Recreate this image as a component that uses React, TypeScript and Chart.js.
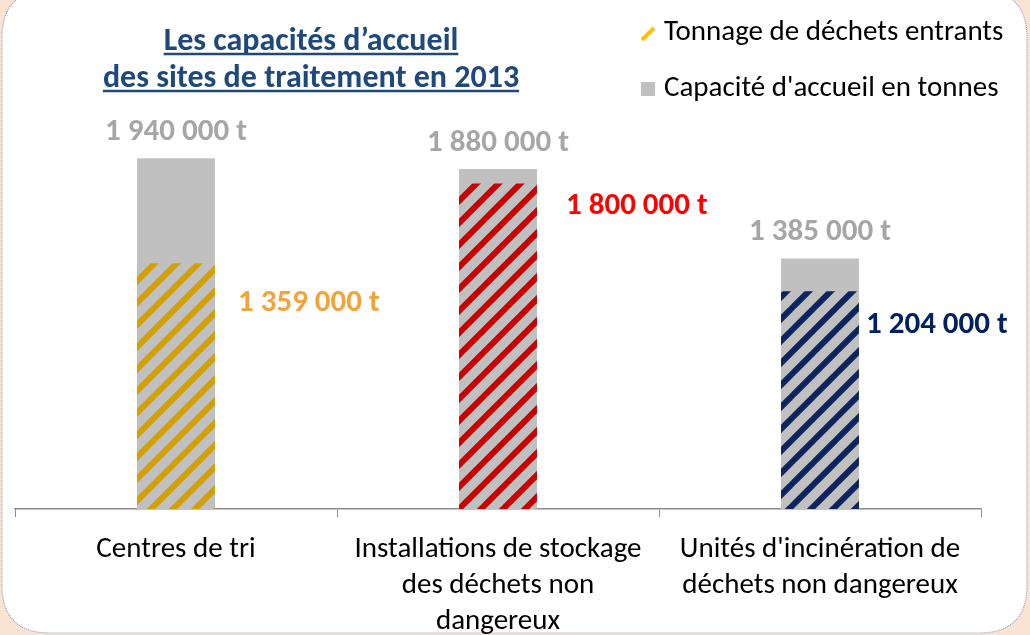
import React, { useEffect, useRef } from "react";
import { Chart, registerables } from "chart.js";

Chart.register(...registerables);

const categories: string[][] = [
  ["Centres de tri"],
  ["Installations de stockage", "des déchets non", "dangereux"],
  ["Unités d'incinération de", "déchets non dangereux"],
];
const tonnage = [1359000, 1800000, 1204000];
const capacite = [1940000, 1880000, 1385000];
const seriesNames = ["Tonnage de déchets entrants", "Capacité d'accueil en tonnes"];
const titleLines = ["Les capacités d’accueil", "des sites de traitement en 2013"];

const FONT = "Carlito, Lato, 'Open Sans', sans-serif";
const GRAY = "#C0C0C0";
const stripeColors = ["#D4A000", "#C80000", "#0C2460"];
const labelColors = ["#F2A33A", "#FF0000", "#002060"];
const labelOffsets = [
  [62, 40],
  [68, 23],
  [46, 34],
];

const fmt = (v: number) => v.toString().replace(/\B(?=(\d{3})+(?!\d))/g, " ") + " t";

function stripes(color: string): CanvasPattern | string {
  const s = 22;
  const c = document.createElement("canvas");
  c.width = s;
  c.height = s;
  const g = c.getContext("2d");
  if (!g) return color;
  g.fillStyle = GRAY;
  g.fillRect(0, 0, s, s);
  g.strokeStyle = color;
  g.lineWidth = 6;
  for (const o of [-s, 0, s]) {
    g.beginPath();
    g.moveTo(o - 2, s + 2);
    g.lineTo(o + s + 2, -2);
    g.stroke();
  }
  return g.createPattern(c, "repeat") || color;
}

function roundRect(ctx: CanvasRenderingContext2D, x: number, y: number, w: number, h: number, r: number) {
  ctx.beginPath();
  ctx.moveTo(x + r, y);
  ctx.lineTo(x + w - r, y);
  ctx.quadraticCurveTo(x + w, y, x + w, y + r);
  ctx.lineTo(x + w, y + h - r);
  ctx.quadraticCurveTo(x + w, y + h, x + w - r, y + h);
  ctx.lineTo(x + r, y + h);
  ctx.quadraticCurveTo(x, y + h, x, y + h - r);
  ctx.lineTo(x, y + r);
  ctx.quadraticCurveTo(x, y, x + r, y);
  ctx.closePath();
}

const decor = {
  id: "decor",
  beforeDraw(chart: any) {
    const ctx: CanvasRenderingContext2D = chart.ctx;
    ctx.save();
    ctx.fillStyle = "#FBE3D3";
    ctx.fillRect(0, 0, chart.width, chart.height);
    roundRect(ctx, 2, -10, 1025, 643, 48);
    ctx.fillStyle = "#FFFFFF";
    ctx.fill();
    ctx.setLineDash([1, 1]);
    ctx.strokeStyle = "#8FA3C0";
    ctx.lineWidth = 1.2;
    ctx.stroke();
    ctx.restore();
  },
  afterDatasetsDraw(chart: any) {
    const ctx: CanvasRenderingContext2D = chart.ctx;
    const top = chart.getDatasetMeta(0).data;
    const gray = chart.getDatasetMeta(1).data;
    ctx.save();
    ctx.font = `bold 31px ${FONT}`;
    ctx.textBaseline = "middle";
    gray.forEach((el: any, i: number) => {
      ctx.fillStyle = "#A6A6A6";
      ctx.textAlign = "center";
      ctx.fillText(fmt(capacite[i]), el.x, el.y - 26);
    });
    top.forEach((el: any, i: number) => {
      ctx.fillStyle = labelColors[i];
      ctx.textAlign = "left";
      ctx.fillText(fmt(tonnage[i]), el.x + labelOffsets[i][0], el.y + labelOffsets[i][1]);
    });

    // title
    ctx.fillStyle = "#1F497D";
    ctx.strokeStyle = "#1F497D";
    ctx.font = `bold 32px ${FONT}`;
    ctx.textAlign = "center";
    ctx.textBaseline = "alphabetic";
    ctx.lineWidth = 2.5;
    titleLines.forEach((t, i) => {
      const cx = 311;
      const by = 50 + i * 37;
      ctx.fillText(t, cx, by);
      const w = ctx.measureText(t).width;
      ctx.beginPath();
      ctx.moveTo(cx - w / 2, by + 4);
      ctx.lineTo(cx + w / 2, by + 4);
      ctx.stroke();
    });

    // legend
    ctx.font = `29px ${FONT}`;
    ctx.textAlign = "left";
    ctx.textBaseline = "middle";
    ctx.fillStyle = "#000000";
    ctx.fillText(seriesNames[0], 664, 33);
    ctx.fillText(seriesNames[1], 664, 89);
    ctx.strokeStyle = "#FFC000";
    ctx.lineWidth = 4;
    ctx.beginPath();
    ctx.moveTo(642, 40);
    ctx.lineTo(654, 28);
    ctx.stroke();
    ctx.fillStyle = GRAY;
    ctx.fillRect(641, 82, 14, 14);
    ctx.restore();
  },
};

export default function App() {
  const ref = useRef<HTMLCanvasElement>(null);
  useEffect(() => {
    if (!ref.current) return;
    const chart = new Chart(ref.current, {
      type: "bar",
      data: {
        labels: categories,
        datasets: [
          {
            label: seriesNames[0],
            data: tonnage,
            backgroundColor: stripeColors.map(stripes) as any,
            grouped: false,
            barPercentage: 0.242,
            categoryPercentage: 1,
          },
          {
            label: seriesNames[1],
            data: capacite,
            backgroundColor: GRAY,
            grouped: false,
            barPercentage: 0.242,
            categoryPercentage: 1,
          },
        ],
      },
      options: {
        responsive: false,
        animation: false,
        layout: { padding: { top: 57, left: 15, right: 49, bottom: 0 } },
        plugins: { legend: { display: false }, tooltip: { enabled: false } },
        scales: {
          y: { display: false, min: 0, max: 2500000 },
          x: {
            grid: {
              drawOnChartArea: false,
              drawTicks: true,
              tickLength: 8,
              color: "#8C8C8C",
              offset: true,
            },
            border: { color: "#8C8C8C", width: 1.5 },
            ticks: {
              color: "#000000",
              font: { family: FONT, size: 29, lineHeight: 1.24 },
              padding: 15,
              maxRotation: 0,
              autoSkip: false,
            },
            afterFit: (scale: any) => {
              scale.height = 126;
            },
          },
        },
      },
      plugins: [decor],
    });
    return () => chart.destroy();
  }, []);
  return (
    <div style={{ position: "fixed", left: 0, top: 0, width: 1030, height: 635 }}>
      <canvas ref={ref} width={1030} height={635} />
    </div>
  );
}
